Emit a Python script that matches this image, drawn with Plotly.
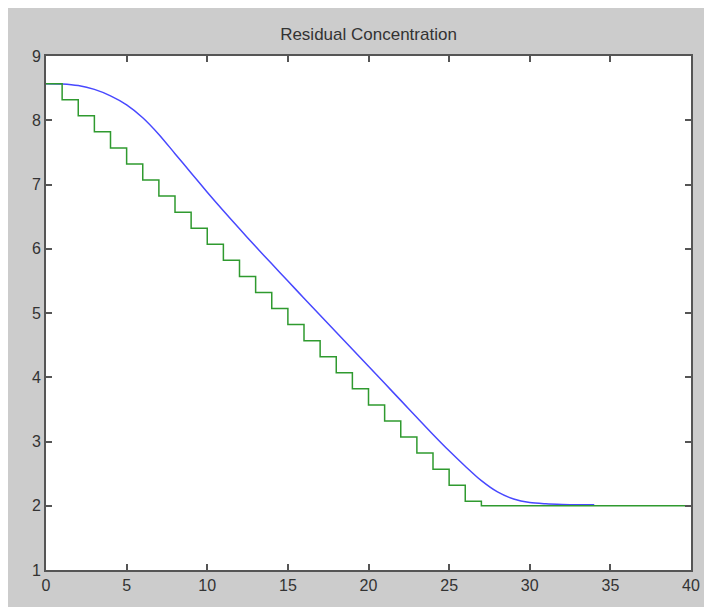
import plotly.graph_objects as go

# blue: smooth residual concentration
blue_x = [0, 1, 2, 3, 4, 5, 6, 7, 8, 9, 10, 11, 12, 13, 14, 15, 16, 17,
          18, 19, 20, 21, 22, 23, 24, 25, 26, 27, 28, 29, 30, 31, 32, 33, 34]
blue_y = [8.57, 8.565, 8.54, 8.48, 8.38, 8.24, 8.04, 7.78, 7.48, 7.18, 6.88,
          6.59, 6.31, 6.035, 5.765, 5.497, 5.23, 4.965, 4.70, 4.435, 4.17,
          3.905, 3.64, 3.375, 3.11, 2.855, 2.615, 2.39, 2.215, 2.105, 2.05,
          2.03, 2.02, 2.015, 2.015]

# green: stepped residual concentration
green_x = [0, 1, 2, 3, 4, 5, 6, 7, 8, 9, 10, 11, 12, 13, 14, 15, 16, 17,
           18, 19, 20, 21, 22, 23, 24, 25, 26, 27, 40]
green_y = [8.57, 8.32, 8.07, 7.82, 7.57, 7.32, 7.07, 6.82, 6.57, 6.32, 6.07,
           5.82, 5.57, 5.32, 5.07, 4.82, 4.57, 4.32, 4.07, 3.82, 3.57, 3.32,
           3.07, 2.82, 2.57, 2.32, 2.07, 2.00, 2.00]

fig = go.Figure()
fig.add_trace(go.Scatter(x=blue_x, y=blue_y, mode="lines",
                         line=dict(color="#4848ff", width=1.5, shape="spline", smoothing=0.8)))
fig.add_trace(go.Scatter(x=green_x, y=green_y, mode="lines",
                         line=dict(color="#2f9a2f", width=1.5, shape="hv")))

fig.update_layout(
    width=704,
    height=599,
    autosize=False,
    showlegend=False,
    paper_bgcolor="#cccccc",
    plot_bgcolor="white",
    margin=dict(l=38, r=12, t=48, b=37, pad=0),
    font=dict(family="Liberation Sans, Arial, sans-serif", size=16, color="#333333"),
    title=dict(text="Residual Concentration", x=0.5, xref="paper",
               y=1 - 26 / 599, yref="container", yanchor="middle",
               font=dict(size=17, color="#333333")),
)

axis_style = dict(
    showline=True,
    linewidth=2,
    linecolor="#555555",
    mirror="ticks",
    ticks="inside",
    ticklen=6,
    tickwidth=1.5,
    tickcolor="#555555",
    showgrid=False,
    zeroline=False,
)
fig.update_xaxes(range=[0, 40], dtick=5, **axis_style)
fig.update_yaxes(range=[1, 9], dtick=1, **axis_style)

fig.write_html("out.html")
